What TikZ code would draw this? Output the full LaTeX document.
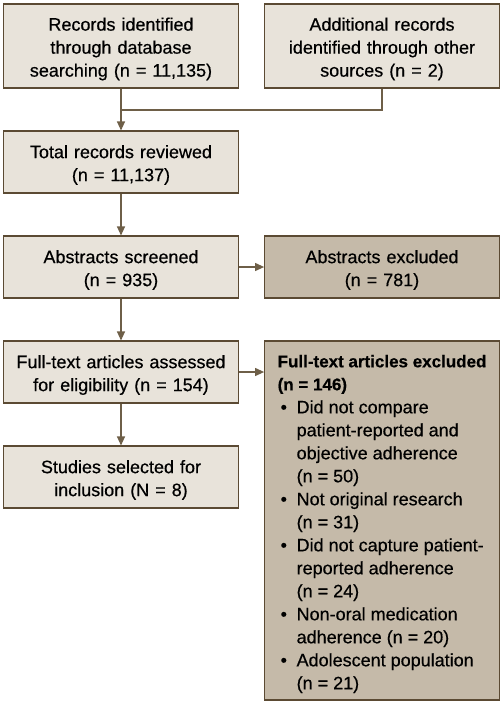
\documentclass[tikz,border=0pt]{standalone}
\usepackage{fontspec}
\setmainfont{Liberation Sans}
\newfontfamily\boxfont{Liberation Sans}[FakeBold=0.5]
\usepackage{xcolor}
\usetikzlibrary{positioning,arrows.meta}

\definecolor{boxline}{HTML}{5B4A33}
\definecolor{lightbox}{HTML}{E8E3DA}
\definecolor{darkbox}{HTML}{C5BAA9}
\definecolor{arrowline}{HTML}{6E5F48}

\tikzset{
  flowbox/.style={draw=boxline, line width=1.1pt, fill=lightbox, minimum width=234pt,
    text width=228pt, align=center, font=\boxfont\fontsize{18}{23}\selectfont},
  exclbox/.style={flowbox, fill=darkbox},
  flowline/.style={draw=arrowline, line width=1.1pt},
  flowarrow/.style={flowline, -{Triangle[length=9pt,width=8pt]}}
}

\newcommand{\bitem}[1]{\makebox[19pt][l]{\hspace{3pt}\textbullet}#1}
\newcommand{\bcont}[1]{\hspace*{19pt}#1}
\newcommand{\boxtitle}[1]{{\fontsize{17}{23}\selectfont\bfseries #1}}

\begin{document}
\begin{tikzpicture}[x=1pt,y=-1pt]
        \useasboundingbox (0,0) rectangle (503,705);
        \node[flowbox, minimum height=84pt](rec) at (121,46) {\rule{0pt}{19pt}Records identified\\through database\\searching (n = 11,135)};
        \node[flowbox, minimum height=84pt](add) at (382,46) {\rule{0pt}{19pt}Additional records\\identified through other\\sources (n = 2)};
        \node[flowbox, minimum height=62pt](total) at (121,162) {\rule{0pt}{19pt}Total records reviewed\\(n = 11,137)};
        \node[flowbox, minimum height=62pt](abs) at (121,267) {\rule{0pt}{19pt}Abstracts screened\\(n = 935)};
        \node[exclbox, minimum height=62pt](absex) at (382,267) {\rule{0pt}{19pt}Abstracts excluded\\(n = 781)};
        \node[flowbox, minimum height=62pt](full) at (121,372) {\rule{0pt}{19pt}Full-text articles assessed\\for eligibility (n = 154)};
        \node[exclbox, minimum height=359pt](fullex) at (382,520.5) {};
        \node[below right=11pt and 10pt of fullex.north west, align=left,
              font=\boxfont\fontsize{18}{23}\selectfont](fullextext) {%
          \boxtitle{Full-text articles excluded}\\
          \boxtitle{(n = 146)}\\
          \bitem{Did not compare}\\
          \bcont{patient-reported and}\\
          \bcont{objective adherence}\\
          \bcont{(n = 50)}\\
          \bitem{Not original research}\\
          \bcont{(n = 31)}\\
          \bitem{Did not capture patient-}\\
          \bcont{reported adherence}\\
          \bcont{(n = 24)}\\
          \bitem{Non-oral medication}\\
          \bcont{adherence (n = 20)}\\
          \bitem{Adolescent population}\\
          \bcont{(n = 21)}};
        \node[flowbox, minimum height=62pt](incl) at (121,477) {\rule{0pt}{19pt}Studies selected for\\inclusion (N = 8)};
        \coordinate(join) at (121,110);
        \draw[flowline](add.south) |- (join);
        \draw[flowarrow](rec.south) -- (total.north);
        \draw[flowarrow](total) -- (abs);
        \draw[flowarrow](abs) -- (absex);
        \draw[flowarrow](abs) -- (full);
        \draw[flowarrow](full.east) -- (full.east -| fullex.west);
        \draw[flowarrow](full) -- (incl);
        \end{tikzpicture}
\end{document}
